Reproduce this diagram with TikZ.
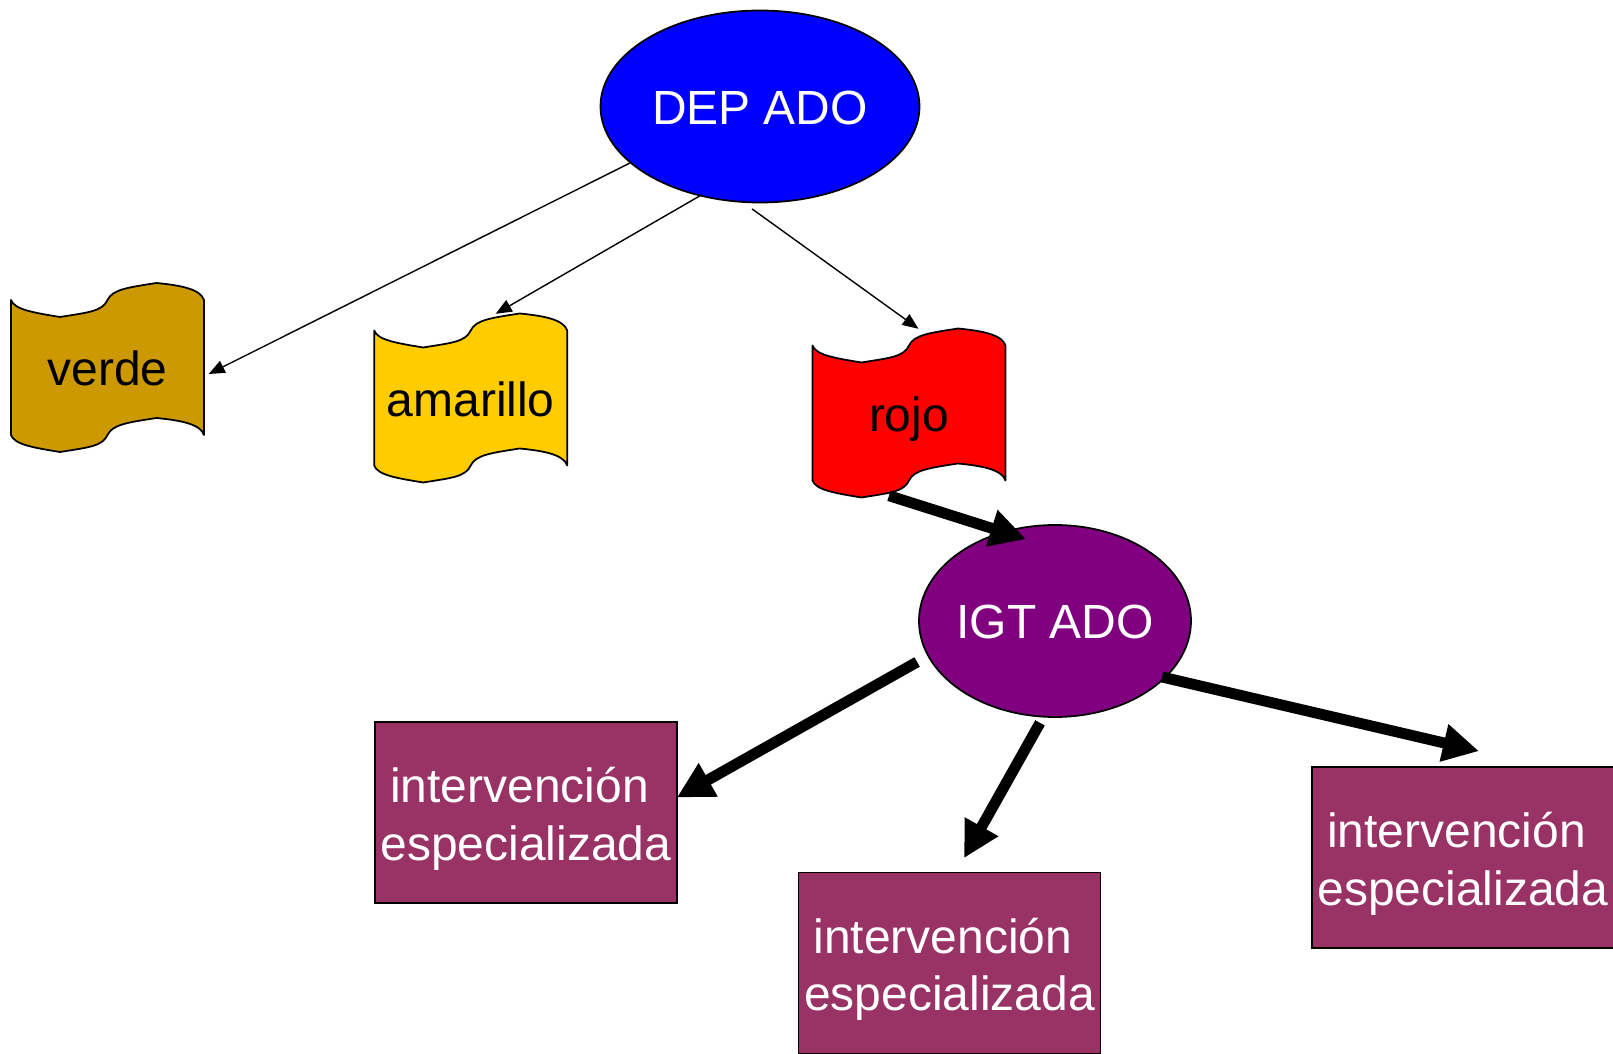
\documentclass[tikz,border=0pt]{standalone}
\usepackage{fontspec}
\setmainfont{Liberation Sans}
\usetikzlibrary{arrows.meta,shapes.geometric}
\definecolor{verdeoro}{HTML}{CC9900}
\definecolor{amarilloclaro}{HTML}{FFCC00}
\definecolor{moradoigt}{HTML}{800080}
\definecolor{vino}{HTML}{993366}
\newcommand{\intervtext}{\rule{0pt}{0.48cm}intervención\kern0.13cm\\especializada}
\tikzset{
	every node/.style={font=\fontsize{13.65}{16.4}\selectfont},
	oval/.style={ellipse, draw=black, line width=0.5pt, text=white, inner sep=0pt, text height=0.36cm, text depth=0cm},
	wave/.style={minimum width=1.93cm, minimum height=1.69cm, inner sep=0pt, text=black, text height=0.37cm, text depth=0cm},
	wavebanner/.pic={
		\filldraw[line width=0.5pt, line join=round, pic actions] (-0.965,0.675)
			.. controls (-0.93,0.58) and (-0.75,0.55) .. (-0.475,0.505)
			.. controls (-0.2,0.55) and (-0.05,0.56) .. (0,0.675)
			.. controls (0.05,0.78) and (0.2,0.80) .. (0.49,0.845)
			.. controls (0.75,0.82) and (0.93,0.78) .. (0.965,0.675)
			-- (0.965,-0.675)
			.. controls (0.93,-0.57) and (0.75,-0.53) .. (0.49,-0.505)
			.. controls (0.2,-0.55) and (0.05,-0.57) .. (0,-0.675)
			.. controls (-0.05,-0.79) and (-0.2,-0.80) .. (-0.475,-0.845)
			.. controls (-0.75,-0.80) and (-0.93,-0.77) .. (-0.965,-0.675)
			-- cycle;
	},
	interv/.style={draw=black, line width=0.5pt, fill=vino, text=white, align=center, minimum width=3.02cm, minimum height=1.81cm, inner sep=0pt},
	thinarrow/.style={line width=0.4pt, -{Triangle[length=0.16cm,width=0.13cm]}},
	bigarrow/.style={line width=3.1pt, -{Triangle[length=0.36cm,width=0.36cm]}}
}
\begin{document}
\begin{tikzpicture}
	\useasboundingbox (0,0) rectangle (16.13,10.53);
	\node[oval, fill=blue, minimum width=3.19cm, minimum height=1.92cm] (dep) at (7.60,9.465) {\makebox[1cm]{DEP ADO}};
	\pic[fill=verdeoro] at (1.075,6.855) {wavebanner};
	\pic[fill=amarilloclaro] at (4.707,6.55) {wavebanner};
	\pic[fill=red] at (9.09,6.40) {wavebanner};
	\node[wave] (verde) at (1.075,6.855) {verde};
	\node[wave] (amarillo) at (4.707,6.55) {amarillo};
	\node[wave] (rojo) at (9.09,6.40) {rojo};
	\node[oval, fill=moradoigt, minimum width=2.72cm, minimum height=1.92cm] (igt) at (10.55,4.32) {\makebox[1cm]{IGT ADO}};
	\node[interv] (interva) at (5.26,2.405) {\intervtext};
	\node[interv] (intervb) at (9.495,0.90) {\intervtext};
	\node[interv] (intervc) at (14.63,1.955) {\intervtext};
	\draw[thinarrow] ([shift={(-1.30,-0.565)}]dep.center) -- ([shift={(0.04,-0.065)}]verde.east);
	\draw[thinarrow] ([shift={(-0.595,-0.89)}]dep.center) -- ([shift={(0.25,-0.01)}]amarillo.north);
	\draw[thinarrow] ([shift={(-0.08,-0.055)}]dep.south) -- ([shift={(0.095,-0.01)}]rojo.north);
	\draw[bigarrow] ([shift={(-0.20,0.025)}]rojo.south) -- ([shift={(-0.29,-0.15)}]igt.north);
	\draw[bigarrow] ([shift={(-0.01,-0.41)}]igt.west) -- ([shift={(-0.01,0.15)}]interva.east);
	\draw[bigarrow] ([shift={(-0.15,-0.05)}]igt.south) -- ([shift={(0.145,0.135)}]intervb.north);
	\draw[bigarrow] ([shift={(1.07,-0.56)}]igt.center) -- ([shift={(0.16,0.15)}]intervc.north);
\end{tikzpicture}
\end{document}
